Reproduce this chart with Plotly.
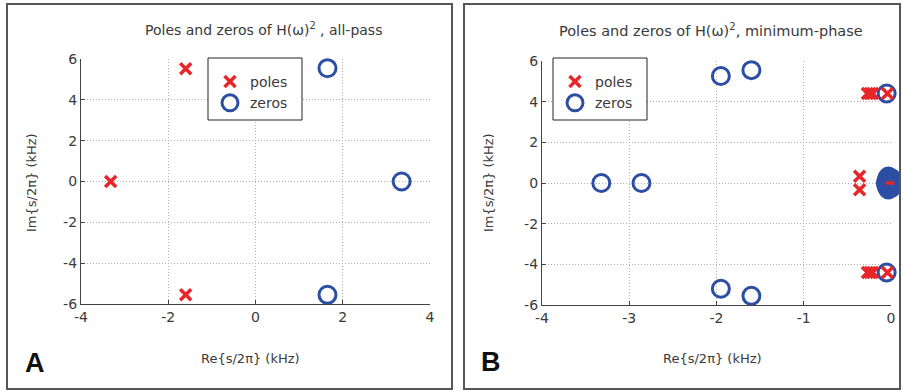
import plotly.graph_objects as go

W, H = 904, 391

# ---- data (kHz) ----
a_poles_re = [-1.6, -3.32, -1.6]
a_poles_im = [5.52, 0.0, -5.55]
a_zeros_re = [1.65, 3.35, 1.65]
a_zeros_im = [5.55, 0.0, -5.55]

b_zeros_re = [-3.32, -2.86, -1.95, -1.6, -1.95, -1.6, -0.05, -0.05]
b_zeros_im = [0.0, 0.0, 5.26, 5.55, -5.2, -5.55, 4.4, -4.4]
# cluster of zeros near origin
b_zeros0_re = [-0.02, -0.05, 0.01, -0.05, 0.01, -0.03, -0.03, -0.06, 0.03, -0.02, -0.02, -0.04, 0.0, -0.04, 0.0]
b_zeros0_im = [0.0, 0.15, 0.15, -0.15, -0.15, 0.32, -0.32, 0.0, 0.0, 0.06, -0.08, 0.25, 0.25, -0.25, -0.25]
b_poles_re = [-0.27, -0.24, -0.21, -0.04, -0.27, -0.24, -0.21, -0.04, -0.36, -0.36]
b_poles_im = [4.4, 4.4, 4.4, 4.4, -4.4, -4.4, -4.4, -4.4, 0.33, -0.33]
b_pole0_re = [-0.01]
b_pole0_im = [0.0]

# tick labels
a_xticks = [-4, -2, 0, 2, 4]
a_xlabels = ["-4", "-2", "0", "2", "4"]
b_xticks = [-4, -3, -2, -1, 0]
b_xlabels = ["-4", "-3", "-2", "-1", "0"]
yticks = [-6, -4, -2, 0, 2, 4, 6]
ylabels = ["-6", "-4", "-2", "0", "2", "4", "6"]

RED = "#e8262a"
BLUE = "#2c4ea3"
TXT = "#3a3a3a"
FONT = "DejaVu Sans, Verdana, sans-serif"

def px(x):
    return x / W

def py(y):
    return 1 - y / H

fig = go.Figure()

zmark = dict(symbol="circle-open", size=17, color=BLUE, line=dict(width=3, color=BLUE))
pmark = dict(symbol="x-thin-open", size=11, color=RED, line=dict(width=3.5, color=RED))

# Panel A
fig.add_trace(go.Scatter(x=a_zeros_re, y=a_zeros_im, mode="markers", marker=zmark,
                         name="zeros", xaxis="x", yaxis="y", cliponaxis=False, legend="legend",
                         legendrank=2))
fig.add_trace(go.Scatter(x=a_poles_re, y=a_poles_im, mode="markers", marker=pmark,
                         name="poles", xaxis="x", yaxis="y", cliponaxis=False, legend="legend",
                         legendrank=1))
# Panel B
fig.add_trace(go.Scatter(x=b_zeros_re, y=b_zeros_im, mode="markers", marker=zmark,
                         name="zeros", xaxis="x2", yaxis="y2", cliponaxis=False, legend="legend2",
                         legendrank=2))
fig.add_trace(go.Scatter(x=b_zeros0_re, y=b_zeros0_im, mode="markers", marker=zmark,
                         name="zeros", xaxis="x2", yaxis="y2", cliponaxis=False, showlegend=False))
fig.add_trace(go.Scatter(x=b_pole0_re, y=b_pole0_im, mode="markers",
                         marker=dict(symbol="line-ew-open", size=6, color=RED, line=dict(width=3.5, color=RED)),
                         name="poles", xaxis="x2", yaxis="y2", cliponaxis=False, showlegend=False))
fig.add_trace(go.Scatter(x=b_poles_re, y=b_poles_im, mode="markers", marker=pmark,
                         name="poles", xaxis="x2", yaxis="y2", cliponaxis=False, legend="legend2",
                         legendrank=1))

axcommon = dict(showline=True, linecolor="#444", linewidth=1.3, ticks="inside", ticklen=4,
                tickcolor="#444", showgrid=True, gridcolor="#b0b0b0", griddash="1px,2px", gridwidth=1,
                zeroline=False, tickfont=dict(family=FONT, size=14, color=TXT), mirror=False,
                automargin=False, tickmode="array")

legcommon = dict(xanchor="left", yanchor="top", bgcolor="rgba(0,0,0,0)", borderwidth=0,
                 traceorder="normal", tracegroupgap=0,
                 font=dict(family=FONT, size=14, color=TXT), itemwidth=30)

fig.update_layout(
    template="none",
    width=W, height=H,
    margin=dict(l=0, r=0, t=0, b=0, pad=0, autoexpand=False),
    paper_bgcolor="white", plot_bgcolor="white",
    font=dict(family=FONT, color=TXT),
    xaxis=dict(domain=[px(81), px(430)], range=[-4, 4], tickvals=a_xticks, ticktext=a_xlabels,
               anchor="y", **axcommon),
    yaxis=dict(domain=[py(304), py(59)], range=[-6, 6], tickvals=yticks, ticktext=ylabels,
               anchor="x", **axcommon),
    xaxis2=dict(domain=[px(542), px(891)], range=[-4, 0], tickvals=b_xticks, ticktext=b_xlabels,
                anchor="y2", **axcommon),
    yaxis2=dict(domain=[py(305), py(61)], range=[-6, 6], tickvals=yticks, ticktext=ylabels,
                anchor="x2", **axcommon),
    legend=dict(x=px(210), y=py(66), **legcommon),
    legend2=dict(x=px(555), y=py(66), **legcommon),
    showlegend=True,
)

def A(text, x, y, size=13, angle=0, family=FONT, color=TXT):
    return dict(text=text, x=px(x), y=py(y), xref="paper", yref="paper", showarrow=False,
                xanchor="center", yanchor="middle", textangle=angle,
                font=dict(size=size, family=family, color=color))

ann = [
    A("Poles and zeros of H(ω)<sup>2</sup> , all-pass", 263, 29, size=14),
    A("Poles and zeros of H(ω)<sup>2</sup>, minimum-phase", 711, 30, size=14.5),
    A("Re{s/2π} (kHz)", 250, 358),
    A("Re{s/2π} (kHz)", 712, 358),
    A("Im{s/2π} (kHz)", 31, 182, angle=-90),
    A("Im{s/2π} (kHz)", 488, 182, angle=-90),
    A("<b>A</b>", 35, 363, size=27, family="Liberation Sans, Arial, sans-serif", color="#111"),
    A("<b>B</b>", 491, 362, size=27, family="Liberation Sans, Arial, sans-serif", color="#111"),
]
fig.update_layout(annotations=ann)

shapes = [
    dict(type="rect", xref="paper", yref="paper", x0=px(7), x1=px(452), y0=py(389), y1=py(4),
         line=dict(color="#555", width=2)),
    dict(type="rect", xref="paper", yref="paper", x0=px(464), x1=px(900), y0=py(389), y1=py(4),
         line=dict(color="#555", width=2)),
    # legend boxes
    dict(type="rect", xref="paper", yref="paper", x0=px(208), x1=px(302), y0=py(120), y1=py(58),
         line=dict(color="#222", width=1), fillcolor="white", layer="above"),
    dict(type="rect", xref="paper", yref="paper", x0=px(553), x1=px(647), y0=py(120), y1=py(58),
         line=dict(color="#222", width=1), fillcolor="white", layer="above"),
]
fig.update_layout(shapes=shapes)

fig.write_html("out.html", config={"displayModeBar": False},
               post_script="document.body.style.margin='0';document.body.style.padding='0';")
